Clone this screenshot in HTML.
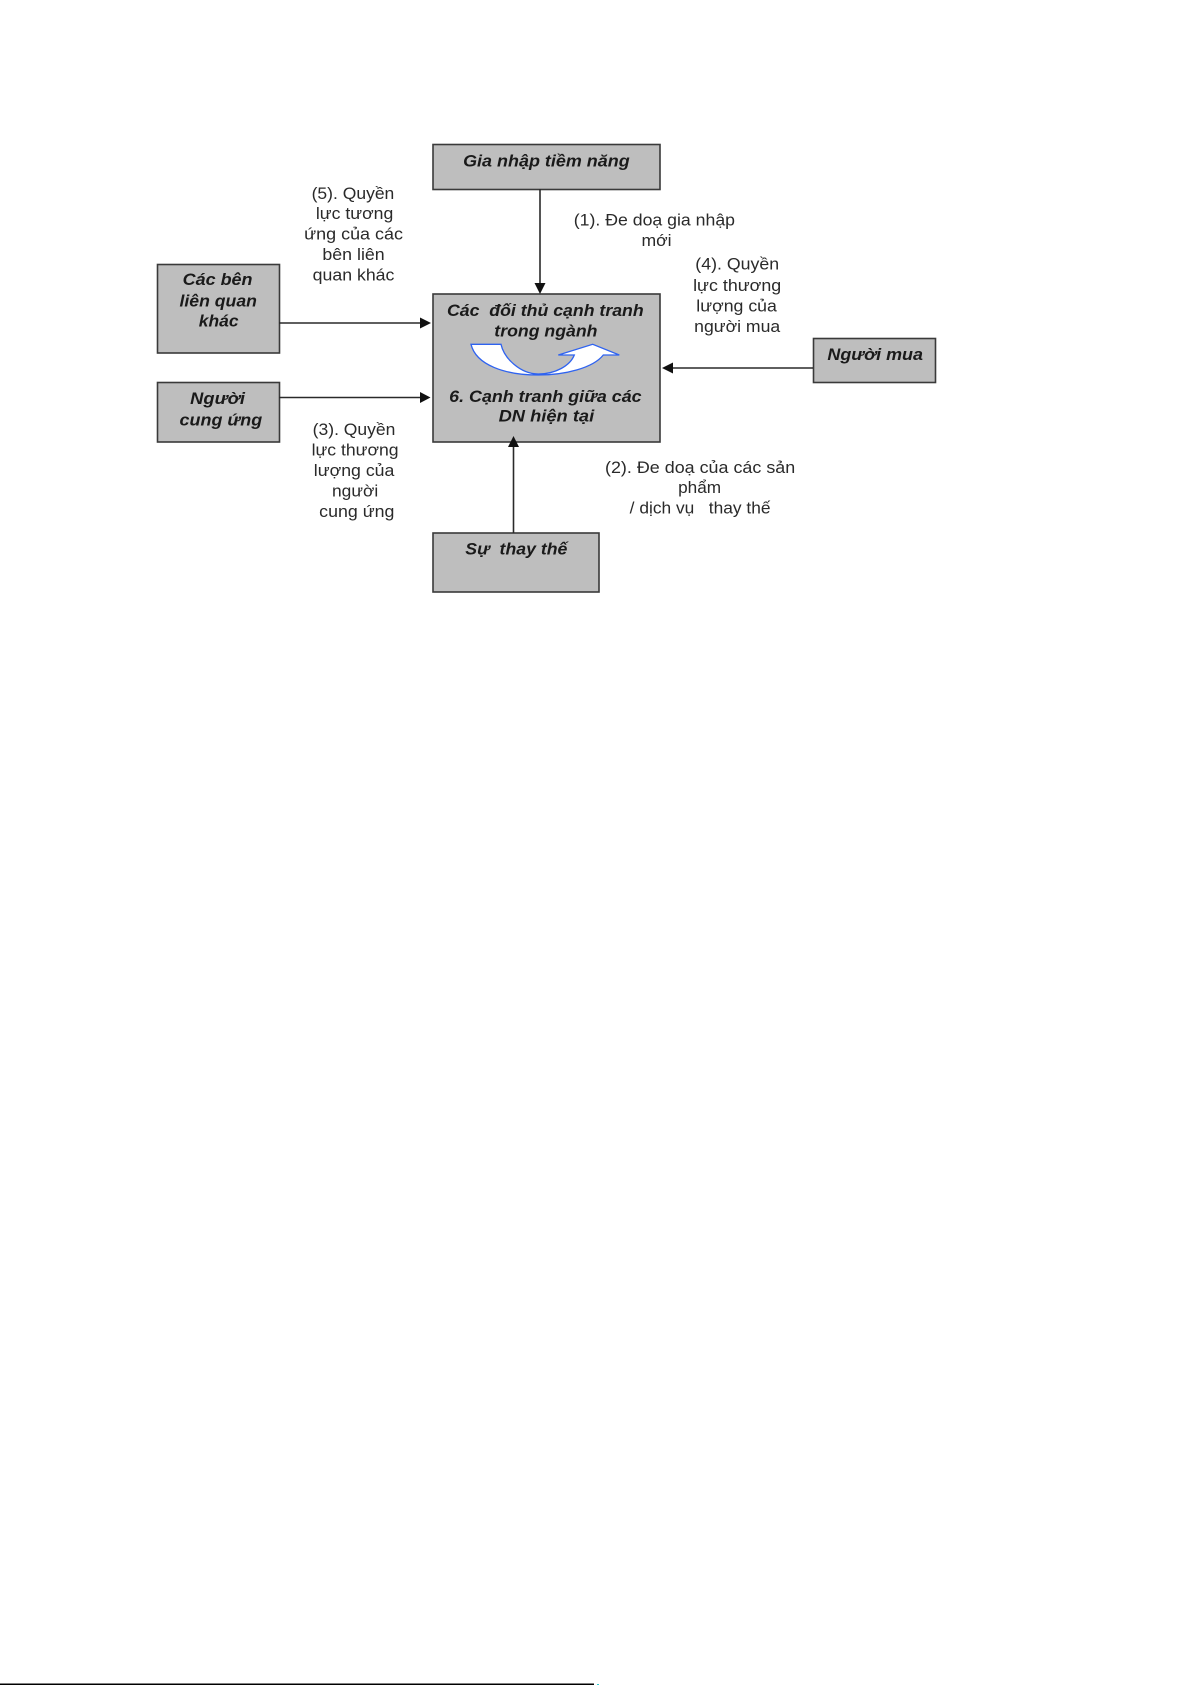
<!DOCTYPE html>
<html><head><meta charset="utf-8"><style>
html,body{margin:0;padding:0;background:#fff;width:1191px;height:1685px;overflow:hidden}
svg{display:block;position:absolute;left:0;top:0}
#d{filter:blur(.35px)}
text{font-family:"Liberation Sans",sans-serif;font-size:17px;fill:#2a2a2a;white-space:pre}
.b{font-weight:bold;font-style:italic;fill:#1a1a1a;font-size:16.5px}
.box{fill:#bebebe;stroke:#3a3a3a;stroke-width:1.6}
.ln{stroke:#2a2a2a;stroke-width:1.6;fill:none}
</style></head><body>
<svg width="1191" height="1685" viewBox="0 0 1191 1685" xmlns="http://www.w3.org/2000/svg">
<g id="d">
<rect class="box" x="433" y="144.500" width="227" height="45"/>
<rect class="box" x="433" y="294" width="227" height="148"/>
<rect class="box" x="157.500" y="264.500" width="122" height="88.500"/>
<rect class="box" x="157.500" y="382.500" width="122" height="59.500"/>
<rect class="box" x="813.500" y="338.500" width="122" height="44"/>
<rect class="box" x="433" y="533" width="166" height="59"/>

<path class="ln" d="M540 189V286"/><path d="M534.500 283H545.500L540 294Z" fill="#111"/>
<path class="ln" d="M279 323H422"/><path d="M420 317.500V328.500L431 323Z" fill="#111"/>
<path class="ln" d="M279 397.500H421"/><path d="M420 392V403L430.500 397.500Z" fill="#111"/>
<path class="ln" d="M813 368H671"/><path d="M673 362.500V373.500L662 368Z" fill="#111"/>
<path class="ln" d="M513.500 533V445"/><path d="M508 447H519L513.500 436Z" fill="#111"/>

<path d="M471 344.300H501C504 358 520 374 538.300 374C555 374 570 366 574.300 355H558.300L592.700 344.300L619.300 355H603.300C593 368 565 375 538.300 375C505 375 476 365 471 344.300Z" fill="#fff" stroke="#2f63f0" stroke-width="1.300"/>

<text class="b" x="463.100" y="166.500" textLength="166.600" lengthAdjust="spacingAndGlyphs">Gia nhập tiềm năng</text>
<text x="311.600" y="198.800" textLength="82.700" lengthAdjust="spacingAndGlyphs">(5). Quyền</text>
<text x="315.900" y="219.200" textLength="77.400" lengthAdjust="spacingAndGlyphs">lực tương</text>
<text x="304.100" y="239.600" textLength="98.900" lengthAdjust="spacingAndGlyphs">ứng của các</text>
<text x="322.400" y="260" textLength="62.300" lengthAdjust="spacingAndGlyphs">bên liên</text>
<text x="312.700" y="280.500" textLength="81.700" lengthAdjust="spacingAndGlyphs">quan khác</text>
<text x="573.800" y="225.700" textLength="161.200" lengthAdjust="spacingAndGlyphs">(1). Đe doạ gia nhập</text>
<text x="641.500" y="246.100" textLength="30.100" lengthAdjust="spacingAndGlyphs">mới</text>
<text x="695.300" y="269.700" textLength="83.800" lengthAdjust="spacingAndGlyphs">(4). Quyền</text>
<text x="693.100" y="291.200" textLength="88.100" lengthAdjust="spacingAndGlyphs">lực thương</text>
<text x="696.300" y="311.600" textLength="80.600" lengthAdjust="spacingAndGlyphs">lượng của</text>
<text x="694.200" y="332" textLength="86" lengthAdjust="spacingAndGlyphs">người mua</text>
<text class="b" x="182.700" y="284.800" textLength="69.800" lengthAdjust="spacingAndGlyphs">Các bên</text>
<text class="b" x="179.500" y="306.300" textLength="77.400" lengthAdjust="spacingAndGlyphs">liên quan</text>
<text class="b" x="198.800" y="326.700" textLength="39.800" lengthAdjust="spacingAndGlyphs">khác</text>
<text class="b" x="190.200" y="404" textLength="54.800" lengthAdjust="spacingAndGlyphs">Người</text>
<text class="b" x="179.500" y="425.500" textLength="82.700" lengthAdjust="spacingAndGlyphs">cung ứng</text>
<text class="b" x="827.400" y="360" textLength="95.600" lengthAdjust="spacingAndGlyphs">Người mua</text>
<text class="b" x="447" y="315.900" textLength="196.700" lengthAdjust="spacingAndGlyphs">Các  đối thủ cạnh tranh</text>
<text class="b" x="494.300" y="336.400" textLength="103.200" lengthAdjust="spacingAndGlyphs">trong ngành</text>
<text class="b" x="449.200" y="401.900" textLength="192.400" lengthAdjust="spacingAndGlyphs">6. Cạnh tranh giữa các</text>
<text class="b" x="498.600" y="421.300" textLength="95.600" lengthAdjust="spacingAndGlyphs">DN hiện tại</text>
<text x="312.700" y="435.200" textLength="82.700" lengthAdjust="spacingAndGlyphs">(3). Quyền</text>
<text x="311.600" y="455.600" textLength="87" lengthAdjust="spacingAndGlyphs">lực thương</text>
<text x="313.800" y="476" textLength="80.600" lengthAdjust="spacingAndGlyphs">lượng của</text>
<text x="332" y="496.500" textLength="46.200" lengthAdjust="spacingAndGlyphs">người</text>
<text x="319.200" y="516.900" textLength="75.200" lengthAdjust="spacingAndGlyphs">cung ứng</text>
<text x="605" y="472.800" textLength="190.200" lengthAdjust="spacingAndGlyphs">(2). Đe doạ của các sản</text>
<text x="678.100" y="493.200" textLength="43" lengthAdjust="spacingAndGlyphs">phẩm</text>
<text x="629.700" y="513.700" textLength="140.800" lengthAdjust="spacingAndGlyphs">/ dịch vụ   thay thế</text>
<text class="b" x="465.300" y="554.500" textLength="102.100" lengthAdjust="spacingAndGlyphs">Sự  thay thế</text>
</g>
<rect x="0" y="1683.500" width="594" height="1.500" fill="#000"/>
<rect x="597" y="1684" width="2" height="1" fill="#3cc"/>
</svg>
</body></html>
